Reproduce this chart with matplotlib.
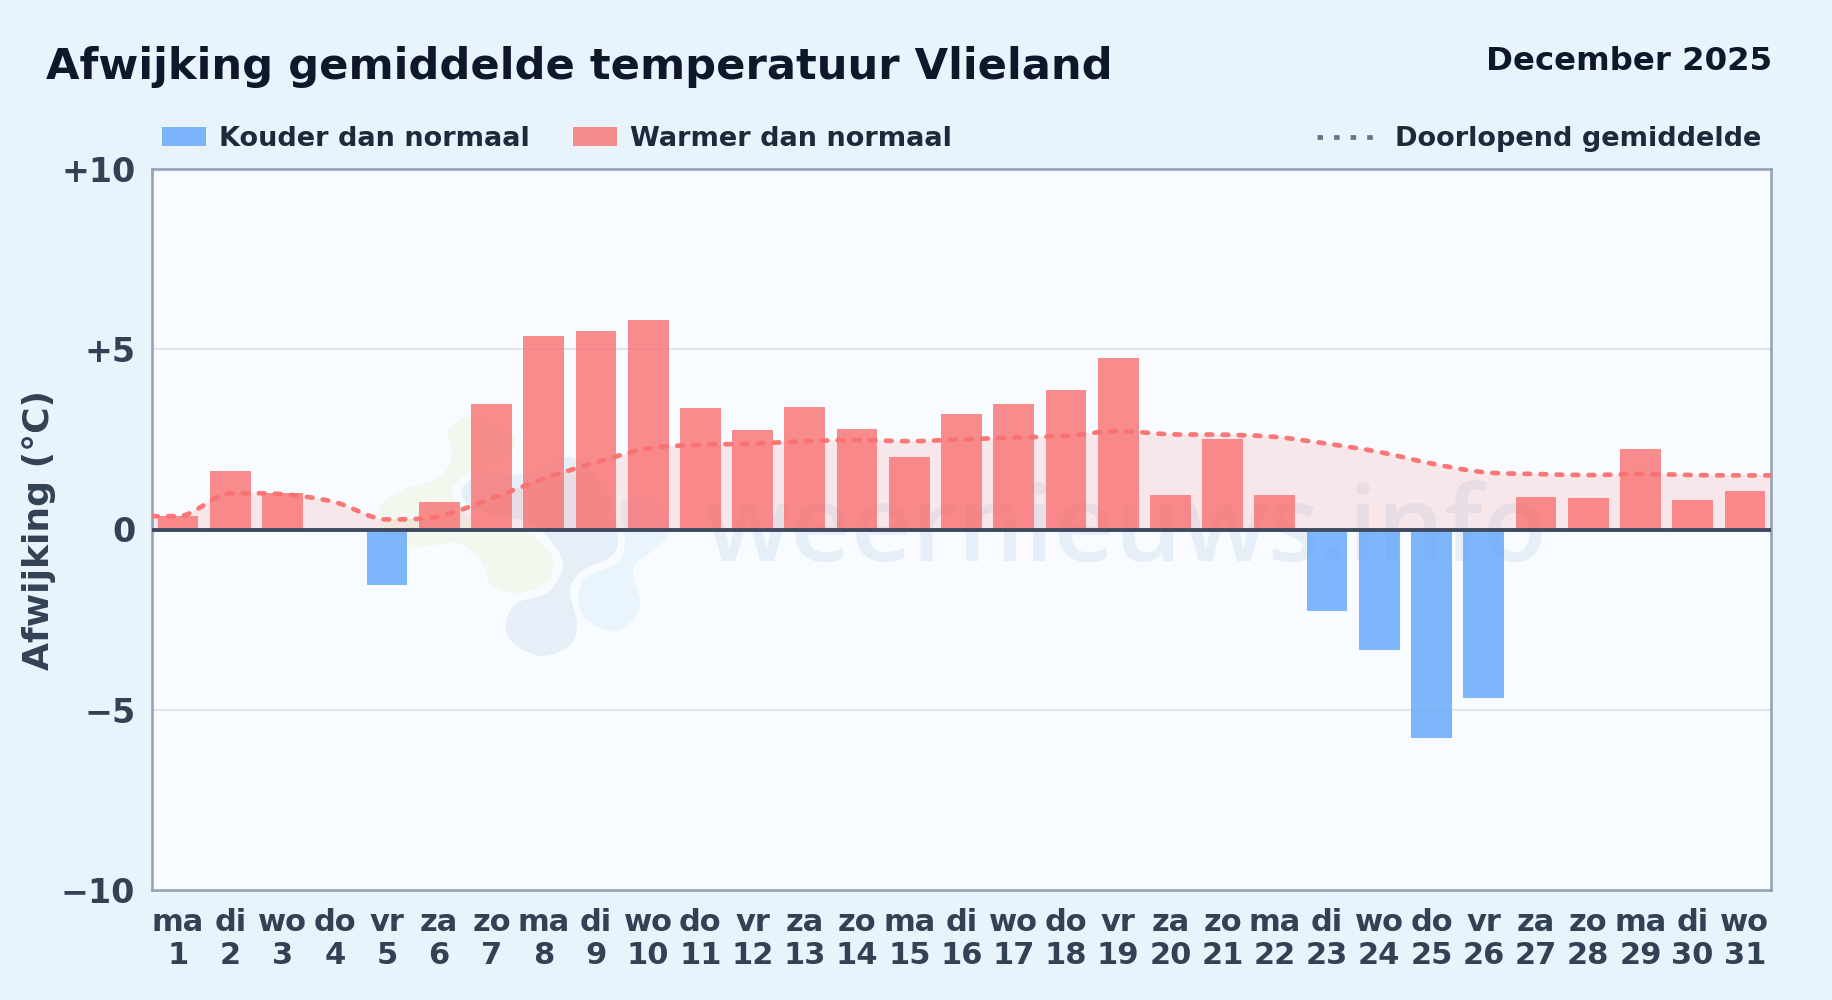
import matplotlib
matplotlib.use("Agg")
import matplotlib.pyplot as plt
import matplotlib.transforms as mtrans
from matplotlib.lines import Line2D
from matplotlib.patches import PathPatch, Rectangle
from matplotlib.path import Path


# Kleuren
BG_COLOR = "#E8F3FC"
PLOT_BG = "#F8FBFF"
TITLE_COLOR = "#0F172A"
LEGEND_COLOR = "#1E293B"
TICK_COLOR = "#334155"
SPINE_COLOR = "#94A3B8"
GRID_COLOR = "#DFE7EE"
ZERO_COLOR = "#3F4A5F"
WARM_COLOR = "#F87171"
COLD_COLOR = "#60A5FA"

W, H = 1832, 1000

weekdays = ["ma", "di", "wo", "do", "vr", "za", "zo"] * 4 + ["ma", "di", "wo"]
days = list(range(1, 32))
afwijking = [
    0.37, 1.63, 1.00, 0.00, -1.55, 0.75, 3.47, 5.38, 5.52, 5.82, 3.37,
    2.77, 3.40, 2.80, 2.00, 3.20, 3.47, 3.87, 4.77, 0.97, 2.50, 0.95,
    -2.25, -3.35, -5.77, -4.67, 0.90, 0.88, 2.22, 0.83, 1.07,
]
# de lijn loopt door tot de randen van de grafiek
gemiddelde_x = [0.5] + days + [31.5]
gemiddelde = [
    0.37, 0.37, 1.00, 0.98, 0.76, 0.28, 0.37, 0.86, 1.41, 1.86, 2.25, 2.35,
    2.38, 2.45, 2.48, 2.45, 2.50, 2.55, 2.60, 2.73, 2.64, 2.63, 2.57,
    2.38, 2.15, 1.83, 1.59, 1.54, 1.51, 1.54, 1.51, 1.50, 1.50,
]
y_ticks = [-10, -5, 0, 5, 10]
y_tick_labels = ["\u221210", "\u22125", "0", "+5", "+10"]


def _curve_path(xs, ys, baseline=None):
    # vloeiende lijn door de punten, zonder overshoot bij toppen en dalen
    n = len(xs)
    slopes = []
    for i in range(n):
        left = (ys[i] - ys[i - 1]) / (xs[i] - xs[i - 1]) if i > 0 else 0
        right = (ys[i + 1] - ys[i]) / (xs[i + 1] - xs[i]) if i < n - 1 else 0
        slopes.append(0 if left * right <= 0 else (left + right) / 2)
    verts = [(xs[0], ys[0])]
    codes = [Path.MOVETO]
    for i in range(n - 1):
        dx = xs[i + 1] - xs[i]
        verts.append((xs[i] + dx / 3, ys[i] + slopes[i] * dx / 3))
        verts.append((xs[i + 1] - dx / 3, ys[i + 1] - slopes[i + 1] * dx / 3))
        verts.append((xs[i + 1], ys[i + 1]))
        codes += [Path.CURVE4] * 3
    if baseline is not None:
        verts += [(xs[-1], baseline), (xs[0], baseline), (xs[0], ys[0])]
        codes += [Path.LINETO, Path.LINETO, Path.CLOSEPOLY]
    return Path(verts, codes)


def _blob_path(points, tension=0.5):
    # gesloten vloeiende vorm voor het logo in het watermerk
    n = len(points)
    verts = [points[0]]
    codes = [Path.MOVETO]
    for i in range(n):
        x0, y0 = points[(i - 1) % n]
        x1, y1 = points[i]
        x2, y2 = points[(i + 1) % n]
        x3, y3 = points[(i + 2) % n]
        verts.append((x1 + (x2 - x0) * tension / 3, y1 + (y2 - y0) * tension / 3))
        verts.append((x2 - (x3 - x1) * tension / 3, y2 - (y3 - y1) * tension / 3))
        verts.append((x2, y2))
        codes += [Path.CURVE4] * 3
    return Path(verts, codes)


fig = plt.figure(figsize=(W / 100, H / 100), dpi=100)
fig.patch.set_facecolor(BG_COLOR)
px = mtrans.Affine2D().scale(1 / W, -1 / H).translate(0, 1) + fig.transFigure

ax = fig.add_axes([152 / W, 1 - 890 / H, (1771 - 152) / W, (890 - 169) / H])
ax.set_facecolor(PLOT_BG)
ax.set_xlim(0.5, 31.5)
ax.set_ylim(-10, 10)

# watermerk
logo_shapes = [
    ("#F3F8EE", [(467, 417), (493, 423), (515, 440), (503, 460), (470, 472), (452, 490),
                 (462, 513), (487, 528), (527, 533), (552, 557), (547, 582), (517, 593),
                 (492, 585), (480, 560), (457, 543), (413, 547), (385, 533), (380, 507),
                 (403, 490), (438, 478), (452, 457), (448, 432)]),
    ("#E6EFF8", [(462, 490), (480, 475), (513, 475), (540, 470), (568, 457), (590, 470),
                 (610, 500), (618, 540), (610, 557), (583, 570), (570, 590), (577, 623),
                 (570, 645), (542, 656), (513, 643), (506, 623), (517, 603), (547, 593),
                 (563, 567), (553, 543), (530, 523), (503, 517), (470, 507)]),
    ("#E9F4FD", [(623, 500), (657, 500), (668, 533), (653, 550), (633, 570), (640, 607),
                 (617, 631), (587, 620), (578, 597), (587, 577), (617, 563), (625, 543)]),
]
for face, points in logo_shapes:
    ax.add_patch(PathPatch(_blob_path(points), facecolor=face, edgecolor="none",
                           transform=px, zorder=0.5))
ax.text(1127, 534, "weernieuws.info", transform=px, fontsize=76, family="Open Sans",
        fontweight="semibold", color="#E6EFF8", ha="center", va="center", zorder=0.6)

ax.grid(False)
for tick in (-5, 5):
    ax.axhline(tick, color=GRID_COLOR, linewidth=1.5, zorder=1)

bar_colors = [WARM_COLOR if v >= 0 else COLD_COLOR for v in afwijking]
ax.bar(days, afwijking, width=0.78, color=bar_colors, alpha=0.8, linewidth=0, zorder=2)

ax.add_patch(PathPatch(_curve_path(gemiddelde_x, gemiddelde, baseline=0), facecolor=WARM_COLOR,
                       alpha=0.14, edgecolor="none", zorder=2.5))
ax.add_patch(PathPatch(_curve_path(gemiddelde_x, gemiddelde), facecolor="none",
                       edgecolor=WARM_COLOR, alpha=0.95, linewidth=3.4,
                       linestyle=(0, (1.2, 2.2)), capstyle="round", zorder=3))

ax.axhline(0, color=ZERO_COLOR, linewidth=2.8, zorder=4)

for side in ax.spines.values():
    side.set_color(SPINE_COLOR)
    side.set_linewidth(1.9)

ax.set_yticks(y_ticks)
ax.set_yticklabels(y_tick_labels, fontsize=24, fontweight="bold", color=TICK_COLOR)
ax.set_xticks(days)
ax.set_xticklabels([f"{w}\n{d}" for w, d in zip(weekdays, days)], fontsize=22,
                   fontweight="bold", color=TICK_COLOR, linespacing=1.17)
ax.tick_params(axis="y", length=0, pad=12)
ax.tick_params(axis="x", length=0, pad=13)

fig.text(39, 530, "Afwijking (\u00b0C)", transform=px, rotation=90, ha="center", va="center",
         fontsize=26, fontweight="bold", color=TICK_COLOR)

# titels
fig.text(46, 79, "Afwijking gemiddelde temperatuur Vlieland", transform=px, ha="left",
         va="baseline", fontsize=31.15, fontweight="bold", color=TITLE_COLOR)
fig.text(1772, 69.5, "December 2025", transform=px, ha="right", va="baseline",
         fontsize=23.3, fontweight="bold", color=TITLE_COLOR)

# legenda
for x0, face in ((162, COLD_COLOR), (573, WARM_COLOR)):
    fig.add_artist(Rectangle((x0, 127), 43.5, 19, transform=px, facecolor=face, alpha=0.8,
                             edgecolor="none"))
fig.text(219, 136, "Kouder dan normaal", transform=px, va="center_baseline", fontsize=19.5,
         fontweight="bold", color=LEGEND_COLOR)
fig.text(630, 136, "Warmer dan normaal", transform=px, va="center_baseline", fontsize=19.5,
         fontweight="bold", color=LEGEND_COLOR)
fig.add_artist(Line2D([1317, 1374], [137, 137], transform=px, color="#64748B", linewidth=3.4,
                      linestyle=(0, (1.17, 2.34))))
fig.text(1395, 136, "Doorlopend gemiddelde", transform=px, va="center_baseline", fontsize=19.5,
         fontweight="bold", color=LEGEND_COLOR)

fig.savefig("out.png", dpi=100, facecolor=BG_COLOR)
plt.close(fig)
